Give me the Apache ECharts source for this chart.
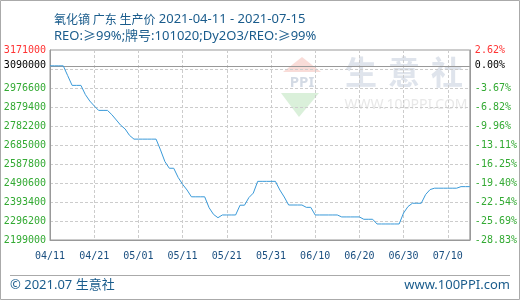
<!DOCTYPE html>
<html><head><meta charset="utf-8">
<script src="https://cdn.jsdelivr.net/npm/echarts/dist/echarts.min.js"></script>
<style>html,body{margin:0;padding:0;background:#fff}#c{width:520px;height:300px}</style>
</head><body><div id="c"></div>
<script>
const titleCn = '氧化镝 广东 生产价';
const titleDates = '2021-04-11 - 2021-07-15';
const subText = 'REO:≥99%;牌号:101020;Dy2O3/REO:≥99%';
const footerLeft = '© 2021.07 生意社';
const footerRight = 'www.100PPI.com';
const dates = [
 '04/11','04/12','04/13','04/14','04/15','04/16','04/17','04/18','04/19','04/20',
 '04/21','04/22','04/23','04/24','04/25','04/26','04/27','04/28','04/29','04/30',
 '05/01','05/02','05/03','05/04','05/05','05/06','05/07','05/08','05/09','05/10',
 '05/11','05/12','05/13','05/14','05/15','05/16','05/17','05/18','05/19','05/20',
 '05/21','05/22','05/23','05/24','05/25','05/26','05/27','05/28','05/29','05/30',
 '05/31','06/01','06/02','06/03','06/04','06/05','06/06','06/07','06/08','06/09',
 '06/10','06/11','06/12','06/13','06/14','06/15','06/16','06/17','06/18','06/19',
 '06/20','06/21','06/22','06/23','06/24','06/25','06/26','06/27','06/28','06/29',
 '06/30','07/01','07/02','07/03','07/04','07/05','07/06','07/07','07/08','07/09',
 '07/10','07/11','07/12','07/13','07/14','07/15'
];
const prices = [
 3090000,3090000,3090000,3090000,3040000,2990000,2990000,2990000,2943000,2910000,
 2885000,2862000,2862000,2862000,2840000,2813000,2786000,2767000,2734000,2715000,
 2715000,2715000,2715000,2715000,2715000,2660000,2600000,2566000,2566000,2519000,
 2484000,2455000,2420000,2420000,2420000,2420000,2364000,2330000,2313000,2327000,
 2327000,2327000,2327000,2377000,2377000,2416000,2439000,2499000,2499000,2499000,
 2499000,2499000,2455000,2419000,2378000,2378000,2378000,2378000,2366000,2366000,
 2327000,2327000,2327000,2327000,2327000,2327000,2317000,2317000,2317000,2317000,
 2317000,2305000,2305000,2305000,2281000,2281000,2281000,2281000,2281000,2281000,
 2337000,2370000,2387000,2387000,2387000,2432000,2457000,2464000,2464000,2464000,
 2464000,2464000,2464000,2472000,2472000,2472000
];
const basePrice = 3090000;
const yMin = 2199000, yMax = 3171000, yStep = 97200;
const hiddenTick = 3073800;

const blue = '#1a5c8c';
const mono = '"DejaVu Sans Mono", monospace';
const sans = '"Noto Sans", "Noto Sans CJK SC", sans-serif';
const pct = v => ((v - basePrice) / basePrice * 100).toFixed(2) + '%';
const isHidden = v => Math.abs(v - hiddenTick) < 1;
const isTop = v => Math.abs(v - yMax) < 1;

const chart = echarts.init(document.getElementById('c'), null, {renderer: 'canvas'});
chart.setOption({
  animation: false,
  backgroundColor: '#fff',
  title: [
    {text: '{c|' + titleCn + '} {l|' + titleDates + '}', left: 49, top: 8,
     textStyle: {color: blue, fontSize: 13, fontWeight: 'normal', fontFamily: sans,
       rich: {c: {color: blue, fontSize: 12, fontFamily: '"Noto Sans CJK SC", sans-serif'},
              l: {color: blue, fontSize: 13, fontFamily: sans}}}},
    {text: subText, left: 49, top: 25, textStyle: {color: blue, fontSize: 13, fontWeight: 'normal', fontFamily: sans}}
  ],
  grid: {left: 50, right: 50, top: 50, bottom: 60, show: true, borderColor: '#999', borderWidth: 1},
  xAxis: {
    type: 'category', data: dates, boundaryGap: false,
    axisLine: {lineStyle: {color: '#999'}},
    axisTick: {show: false},
    axisLabel: {interval: 9, color: '#1a4f80', fontFamily: mono, fontSize: 10, margin: 11},
    splitLine: {show: true, interval: 9, lineStyle: {color: '#ccc', type: [3, 2]}}
  },
  yAxis: [
    {
      type: 'value', min: yMin, max: yMax, interval: yStep, position: 'left',
      axisLine: {show: true, lineStyle: {color: '#999'}},
      axisTick: {show: false},
      axisLabel: {
        margin: 4, fontFamily: mono, fontSize: 10,
        formatter: v => isHidden(v) ? '' : String(Math.round(v)),
        color: v => isTop(Number(v)) ? '#ff3333' : '#33aa33'
      },
      splitLine: {show: true, lineStyle: {color: '#ccc', type: [3, 2]}}
    },
    {
      type: 'value', min: yMin, max: yMax, interval: yStep, position: 'right',
      axisLine: {show: true, lineStyle: {color: '#999'}},
      axisTick: {show: false},
      axisLabel: {
        margin: 5, fontFamily: mono, fontSize: 10,
        formatter: v => isHidden(v) ? '' : pct(v),
        color: v => isTop(Number(v)) ? '#ff3333' : '#33aa33'
      },
      splitLine: {show: false}
    }
  ],
  series: [{
    type: 'line', data: prices, yAxisIndex: 0, showSymbol: false, symbol: 'none',
    lineStyle: {color: '#3a9ad9', width: 1}, z: 5,
    markLine: {
      silent: true, symbol: 'none', animation: false,
      lineStyle: {color: '#999', type: 'solid', width: 1},
      data: [
        {yAxis: basePrice, label: {position: 'start', formatter: String(basePrice), color: '#000', fontFamily: mono, fontSize: 10, distance: 4}},
        {yAxis: basePrice, label: {position: 'end', formatter: pct(basePrice), color: '#000', fontFamily: mono, fontSize: 10, distance: 5}}
      ]
    }
  }],
  graphic: [
    {type: 'rect', silent: true, z: 100, shape: {x: 0.5, y: 0.5, width: 519, height: 299}, style: {fill: 'none', stroke: '#aaa', lineWidth: 1}},
    {type: 'line', silent: true, shape: {x1: 10, y1: 275.5, x2: 510, y2: 275.5}, style: {stroke: '#aaa', lineWidth: 1}},
    {type: 'text', silent: true, x: 10, y: 285, style: {text: footerLeft, fill: blue, font: '13px ' + sans, textAlign: 'left', textVerticalAlign: 'middle'}},
    {type: 'text', silent: true, x: 510, y: 285, style: {text: footerRight, fill: blue, font: '13px ' + sans, textAlign: 'right', textVerticalAlign: 'middle'}},
    {type: 'polygon', silent: true, z: -1, shape: {points: [[283, 72], [321, 72], [302, 57]]}, style: {fill: '#f9dcd8'}},
    {type: 'polygon', silent: true, z: -1, shape: {points: [[281, 93], [319, 93], [299, 117]]}, style: {fill: '#daf0da'}},
    {type: 'text', silent: true, z: -1, x: 302, y: 83, style: {text: 'PPI', fill: '#d3dae4', font: 'bold 15px ' + sans, textAlign: 'center', textVerticalAlign: 'middle'}},
    {type: 'text', silent: true, z: -1, x: 361, y: 72, style: {text: '生', fill: '#dfe4ec', font: 'bold 32px "Noto Sans CJK SC"', textAlign: 'center', textVerticalAlign: 'middle'}},
    {type: 'text', silent: true, z: -1, x: 404, y: 72, style: {text: '意', fill: '#dfe4ec', font: 'bold 32px "Noto Sans CJK SC"', textAlign: 'center', textVerticalAlign: 'middle'}},
    {type: 'text', silent: true, z: -1, x: 447, y: 72, style: {text: '社', fill: '#dfe4ec', font: 'bold 32px "Noto Sans CJK SC"', textAlign: 'center', textVerticalAlign: 'middle'}},
    {type: 'text', silent: true, z: -1, x: 406, y: 105, style: {text: 'WWW.100PPI.COM', fill: '#e8e8e8', font: '14px ' + sans, textAlign: 'center', textVerticalAlign: 'middle'}}
  ]
});
</script>
</body></html>
